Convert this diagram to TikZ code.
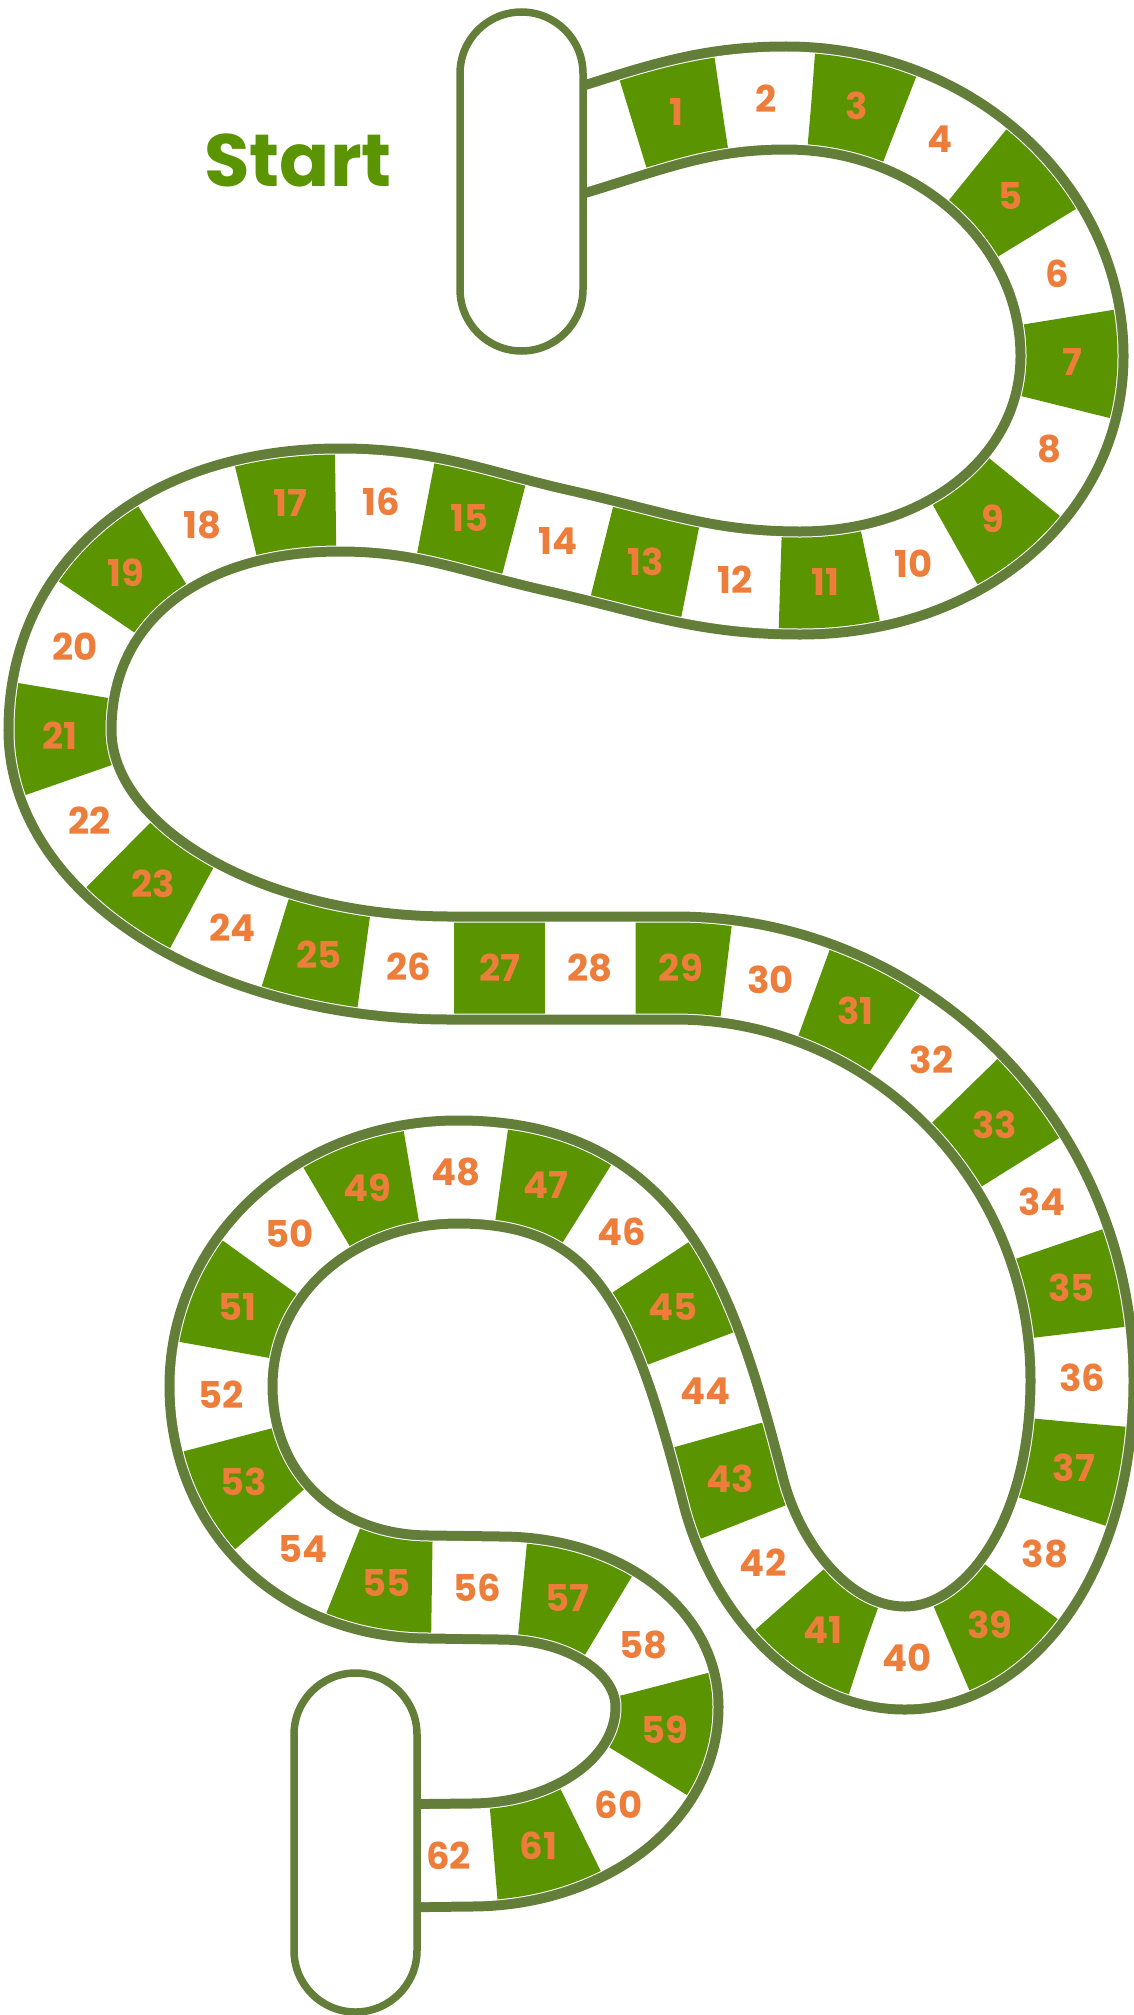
\documentclass[tikz,border=0pt]{standalone}
\usepackage{fontspec}
\setmainfont{Poppins}
\usetikzlibrary{decorations.markings}
\definecolor{bordergreen}{RGB}{99,126,56}
\definecolor{cellgreen}{RGB}{90,148,0}
\definecolor{numorange}{RGB}{237,125,58}
\newcommand\snakepath{(549,150)
 .. controls (645,122) and (696,98) .. (786,98)
 .. controls (944,98) and (1072,214) .. (1072,356)
 .. controls (1072,485) and (955,583) .. (800,583)
 .. controls (704,583) and (653,562) .. (560,541)
 .. controls (475,522) and (427,500) .. (340,500)
 .. controls (172,500) and (60,592) .. (60,730)
 .. controls (60,861) and (235,968) .. (450,968)
 -- (675,968)
 .. controls (900,968) and (1082,1153) .. (1082,1380)
 .. controls (1082,1552) and (995,1658) .. (905,1658)
 .. controls (819,1658) and (754,1573) .. (733,1490)
 .. controls (683,1296) and (638,1172) .. (458,1172)
 .. controls (325,1172) and (221,1266) .. (221,1386)
 .. controls (221,1503) and (309,1587) .. (430,1587)
 -- (500,1588)
 .. controls (594,1588) and (667,1640) .. (667,1707)
 .. controls (667,1790) and (580,1855) .. (470,1855)
 -- (385,1856)}
\tikzset{
  numtext/.style={font=\fontsize{37}{37}\selectfont\bfseries, text=numorange, inner sep=0pt},
  pill/.style={draw=bordergreen, line width=7.5pt, fill=white, rounded corners=61.5pt, minimum width=123pt, minimum height=339pt, inner sep=0pt},
  starttext/.style={font=\fontsize{74}{74}\selectfont\bfseries, text=cellgreen, inner sep=0pt}
}
\begin{document}
\begin{tikzpicture}[x=1pt, y=-1pt]
\useasboundingbox (0,0) rectangle (1134,2015);
% measure the track length
\path[decoration={markings, mark=at position 0.5 with {\pgfmathsetmacro\tmplen{\pgfdecoratedpathlength}\global\let\snakelen\tmplen}}, decorate] \snakepath;
\pgfmathsetmacro\sA{88}
\pgfmathsetmacro\eA{18}
\pgfmathsetmacro\cellL{(\snakelen-\sA-\eA)/62}
\pgfmathsetmacro\dphase{2*\cellL-\sA}
\pgfmathsetmacro\markA{\sA+\cellL/2}
\pgfmathsetmacro\markB{\snakelen-\eA-\cellL/4}
% track
\draw[bordergreen, line width=113pt] \snakepath;
\draw[white, line width=93pt] \snakepath;
\draw[cellgreen, line width=91pt, dash pattern=on \cellL pt off \cellL pt, dash phase=\dphase pt] \snakepath;
\path[decoration={markings, mark=between positions \markA pt and \markB pt step \cellL pt with {\node[numtext] (num\pgfkeysvalueof{/pgf/decoration/mark info/sequence number}) {\pgfkeysvalueof{/pgf/decoration/mark info/sequence number}};}}, decorate] \snakepath;
% pills
\node[pill] (startpill) at (521.5,181.5) {};
\node[pill] (endpill) at (355.5,1842.5) {};
\node[starttext] (start) at (298,160) {Start};
\end{tikzpicture}
\end{document}
